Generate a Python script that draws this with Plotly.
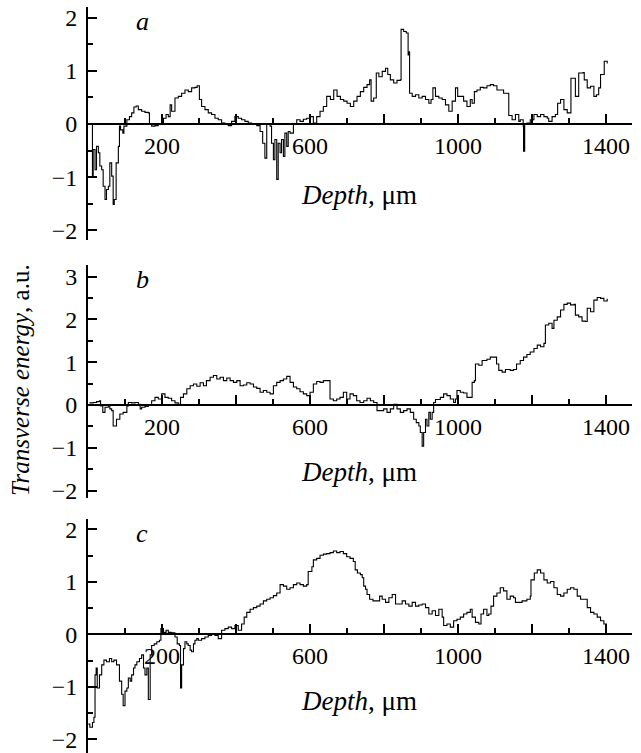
import plotly.graph_objects as go

# ---- data (depth in µm, transverse energy in a.u.) ----
a_x = [10, 12, 14, 19, 23, 28, 32, 37, 41, 46, 50, 55, 59, 64, 68, 71, 76, 79, 82, 85, 88, 94, 97,
       105, 112, 118, 124, 130, 136, 145, 154, 163, 166, 172, 181, 190, 199, 204, 211, 217, 222, 226,
       235, 244, 253, 262, 271, 280, 289, 295, 301, 307, 316, 325, 334, 343, 352, 361, 370, 379, 388,
       397, 406, 415, 424, 433, 442, 456, 465, 472, 478, 483, 487, 492, 496, 501, 505, 510, 514, 519,
       523, 528, 532, 537, 541, 546, 555, 564, 573, 582, 591, 600, 609, 618, 627, 636, 645,
       655, 664, 673, 682, 691, 700, 709, 718, 727, 736, 745, 754, 761, 765, 772, 779, 786, 795, 804,
       810, 817, 826, 835, 844, 846, 853, 860, 865, 868, 869, 876, 885, 894, 903, 912, 921, 927, 932,
       939, 948, 957, 966, 975, 984, 993, 999, 1006, 1015, 1024, 1033, 1038, 1044, 1051, 1060, 1069,
       1078, 1087, 1096, 1105, 1114, 1123, 1132, 1137, 1146, 1155, 1164, 1168, 1176, 1177, 1180, 1186,
       1195, 1205, 1214, 1223, 1232, 1241, 1245, 1254, 1263, 1269, 1277, 1286, 1295, 1304, 1305, 1317,
       1326, 1338, 1341, 1349, 1358, 1367, 1374, 1380, 1385, 1394, 1395, 1403]
a_y = [0.00, -0.98, -0.48, -0.86, -0.42, -0.54, -0.79, -0.86, -1.17, -1.42, -1.23, -1.17, -0.73, -0.98,
       -1.51, -1.42, -0.73, -0.73, -0.42, -0.04, -0.11, -0.17, -0.04,
       0.08, 0.14, 0.21, 0.32, 0.34, 0.27, 0.24, 0.22, 0.21, -0.01, -0.04, -0.03, 0.01, 0.02, 0.11, 0.18,
       0.14, 0.36, 0.24, 0.49, 0.52, 0.58, 0.64, 0.61, 0.68, 0.69, 0.72, 0.46, 0.33, 0.27, 0.21, 0.18,
       0.11, 0.08, 0.02, -0.01, -0.03, 0.05, 0.14, 0.11, 0.08, 0.05, 0.02, 0.01, -0.03, -0.14, -0.36,
       -0.64, 0.01, -0.01, -0.04, -0.36, -0.67, -0.29, -1.04, -0.36, -0.54, -0.29, -0.61, -0.17, -0.42,
       -0.14, -0.17, -0.01, 0.08, 0.05, 0.09, 0.11, 0.14, 0.02, 0.14, 0.24, 0.33, 0.52,
       0.46, 0.64, 0.52, 0.46, 0.43, 0.39, 0.33, 0.43, 0.52, 0.61, 0.69, 0.74, 0.83, 0.43, 0.49, 0.96,
       0.89, 0.99, 1.05, 0.93, 0.83, 0.77, 0.82, 0.83, 1.78, 1.74, 1.71, 1.30, 1.36, 0.58, 0.52, 0.55,
       0.49, 0.52, 0.46, 0.39, 0.46, 0.68, 0.52, 0.49, 0.46, 0.36, 0.24, 0.43, 0.68, 0.52, 0.52, 0.43,
       0.33, 0.46, 0.39, 0.61, 0.64, 0.69, 0.68, 0.72, 0.74, 0.72, 0.64, 0.64, 0.58, 0.58, 0.16, 0.08,
       0.18, 0.05, 0.08, -0.04, -0.51, -0.01, 0.02, 0.08, 0.18, 0.14, 0.18, 0.14, 0.11, 0.05, 0.14, 0.18,
       0.39, 0.46, 0.27, 0.21, 0.21, 0.86, 0.52, 0.96, 0.97, 0.83, 0.68, 0.71, 0.52, 0.55, 0.68, 0.93,
       0.93, 1.18, 1.14]

b_x = [4, 14, 23, 31, 34, 40, 46, 55, 59, 64, 68, 77, 86, 95, 105, 109, 118, 127, 136, 141, 145, 154,
       163, 172, 181, 190, 199, 208, 217, 226, 235, 244, 250, 258, 267, 276, 285, 294, 303, 312, 320,
       330, 339, 348, 357, 366, 375, 384, 393, 402, 411, 420, 429, 438, 447, 456, 465, 474, 483, 492,
       501, 510, 519, 528, 537, 546, 555, 564, 573, 582, 591, 600, 609, 618, 627, 636, 650, 654, 663,
       672, 681, 690, 699, 708, 717, 726, 735,
       745, 754, 763, 772, 781, 790, 799, 808, 817, 826, 835, 844, 853, 862, 871, 880, 887, 894, 898,
       903, 907, 912, 916, 921, 925, 930, 934, 939, 952, 961, 970, 979, 988, 993, 997, 1006, 1015, 1024,
       1033, 1038, 1044, 1047, 1056, 1065, 1078, 1087, 1096, 1104, 1110, 1119, 1128, 1141, 1150, 1158,
       1168, 1177, 1186, 1195, 1205, 1214, 1223, 1232, 1236, 1245, 1254, 1259, 1268, 1277, 1286, 1295,
       1304, 1314, 1317, 1326, 1335, 1344, 1349, 1358, 1367, 1376, 1385, 1394, 1403]
b_y = [0.05, 0.06, 0.08, 0.10, -0.02, -0.17, -0.05, -0.02, -0.09, -0.13, -0.49, -0.33, -0.21, -0.17,
       -0.02, 0.06, 0.05, 0.06, 0.02, -0.09, -0.05, -0.03, 0.00, 0.10, 0.18, 0.14, 0.26, 0.18, 0.16,
       0.10, 0.05, 0.02, 0.18, 0.26, 0.38, 0.45, 0.49, 0.44, 0.52, 0.45, 0.57, 0.65, 0.69, 0.61, 0.65,
       0.57, 0.63, 0.57, 0.53, 0.57, 0.45, 0.47, 0.52, 0.49, 0.42, 0.39, 0.30, 0.34, 0.30, 0.26, 0.45,
       0.53, 0.57, 0.61, 0.67, 0.53, 0.42, 0.38, 0.31, 0.26, 0.22, 0.30, 0.49, 0.55, 0.53, 0.57, 0.57,
       0.14, 0.10, 0.14, 0.18, 0.30, 0.14, 0.26, 0.22, 0.10, 0.06,
       0.10, 0.16, 0.10, 0.06, -0.13, -0.13, -0.09, -0.17, -0.09, 0.02, -0.09, -0.17, -0.13, -0.09,
       -0.17, -0.33, -0.41, -0.49, -0.64, -0.96, -0.64, -0.33, -0.49, -0.17, -0.33, -0.17, 0.06, 0.13,
       0.18, 0.26, 0.22, 0.14, 0.06, 0.14, 0.34, 0.30, 0.28, 0.18, 0.18, 0.53, 0.57, 0.96, 0.93, 1.04,
       1.07, 1.12, 1.12, 0.96, 0.81, 0.77, 0.83, 0.81, 0.83, 0.96, 1.04, 1.12, 1.18, 1.24, 1.32, 1.40,
       1.36, 1.44, 1.87, 1.91, 1.79, 1.98, 2.06, 2.22, 2.35, 2.38, 2.34, 2.35, 2.10, 2.06, 1.96, 1.95,
       2.26, 2.18, 2.45, 2.51, 2.49, 2.43, 2.48]

c_x = [1, 5, 12, 16, 19, 22, 25, 31, 37, 43, 50, 58, 64, 70, 77, 85, 91, 95, 100, 105, 109, 114, 118,
       123, 127, 132, 139, 145, 150, 154, 159, 163, 168, 172, 179, 186, 193, 197, 204, 211, 217, 226,
       235, 241, 247, 250, 253, 258, 262, 267, 271, 276, 280, 285, 289, 294, 298, 307, 316, 325, 334,
       343, 352, 361, 370, 379, 388, 397, 406, 415, 422, 429, 438, 447, 456, 465, 474, 483, 492, 501,
       510, 519, 528, 537, 546, 555, 564, 573, 582, 591, 595, 605, 609, 618, 627, 636, 645, 654, 663,
       672, 681, 690, 699, 708, 717, 722, 728,
       736, 741, 745, 750, 754, 761, 770, 779, 788, 795, 804, 813, 822, 831, 840, 849, 858, 867, 876,
       885, 894, 903, 912, 921, 930, 939, 948, 957, 961, 970, 979, 988, 997, 1006, 1015, 1024, 1033,
       1038, 1047, 1056, 1062, 1069, 1078, 1083, 1089, 1096, 1105, 1114, 1123, 1132, 1141, 1150, 1155,
       1164, 1173, 1186, 1195, 1197, 1206, 1214, 1223, 1232, 1241, 1250, 1259, 1268, 1277, 1286, 1295,
       1304, 1313, 1322, 1331, 1340, 1349, 1358, 1367, 1376, 1385, 1394, 1401]
c_y = [-1.71, -1.77, -1.68, -1.58, -0.77, -0.64, -1.02, -0.77, -0.58, -0.49, -0.52, -0.46, -0.52,
       -0.49, -0.58, -0.89, -1.14, -1.36, -1.08, -1.02, -0.83, -0.89, -0.77, -0.64, -0.58, -0.52, -0.46,
       -0.39, -0.64, -0.77, -0.64, -1.24, -0.39, -0.21, -0.18, -0.14, -0.11, 0.11, 0.04, 0.08, 0.04,
       0.03, -0.05, -0.18, -0.21, -1.02, -0.58, -0.27, -0.14, -0.18, -0.21, -0.30, -0.33, -0.18, -0.11,
       -0.08, -0.11, -0.08, -0.05, -0.02, 0.00, -0.02, -0.08, 0.08, 0.11, 0.14, 0.11, 0.17, 0.08, 0.20,
       0.33, 0.42, 0.48, 0.51, 0.54, 0.58, 0.64, 0.67, 0.70, 0.74, 0.79, 0.95, 0.92, 0.86, 0.89, 0.95,
       0.98, 0.95, 0.92, 0.95, 1.20, 1.29, 1.42, 1.45, 1.51, 1.53, 1.54, 1.56, 1.59, 1.56, 1.58, 1.54,
       1.48, 1.45, 1.39, 1.23, 1.17,
       1.14, 1.08, 0.92, 0.86, 0.76, 0.67, 0.64, 0.64, 0.73, 0.67, 0.61, 0.70, 0.76, 0.58, 0.58, 0.64,
       0.58, 0.54, 0.61, 0.54, 0.56, 0.58, 0.51, 0.39, 0.45, 0.36, 0.48, 0.33, 0.17, 0.20, 0.14, 0.26,
       0.29, 0.33, 0.39, 0.42, 0.48, 0.33, 0.23, 0.20, 0.39, 0.48, 0.36, 0.39, 0.54, 0.73, 0.79, 0.89,
       0.83, 0.67, 0.73, 0.70, 0.61, 0.61, 0.64, 0.67, 0.73, 1.04, 1.17, 1.23, 1.17, 1.04, 0.98, 1.01,
       0.89, 0.76, 0.73, 0.79, 0.86, 0.89, 0.86, 0.73, 0.67, 0.67, 0.51, 0.42, 0.39, 0.33, 0.26, 0.20,
       0.17]

x_major_vals = [200, 400, 600, 800, 1000, 1200, 1400]
x_major_text = ["200", "", "600", "", "1000", "", "1400"]
panel_letters = ["a", "b", "c"]
x_title = "<i>Depth</i>, μm"
y_title = "<i>Transverse energy</i>, a.u."

# ---- layout settings ----
W, H = 641, 753
FONT = "Liberation Serif"
FS = 24
FT = 27
x_range = [0, 1470]
panels = [
    dict(x=a_x, y=a_y, yr=[-2.18, 2.2], dom=[1 - 240 / H, 1 - 7 / H], ytv=[-2, -1, 0, 1, 2],
         letter_y=2.2, title_y=-1.33),
    dict(x=b_x, y=b_y, yr=[-2.17, 3.27], dom=[1 - 498 / H, 1 - 265 / H], ytv=[-2, -1, 0, 1, 2, 3],
         letter_y=3.27, title_y=-1.57),
    dict(x=c_x, y=c_y, yr=[-2.26, 2.2], dom=[0.0, 1 - 519 / H], ytv=[-2, -1, 0, 1, 2],
         letter_y=2.2, title_y=-1.27),
]

fig = go.Figure()
layout = dict(
    width=W, height=H,
    margin=dict(l=88, r=9, t=0, b=0, autoexpand=False),
    paper_bgcolor="white", plot_bgcolor="white",
    showlegend=False,
    font=dict(family=FONT, size=FS, color="black"),
)
annotations = []
for i, p in enumerate(panels):
    n = "" if i == 0 else str(i + 1)
    xa, ya = "x" + n, "y" + n
    fig.add_trace(go.Scatter(x=p["x"], y=p["y"], mode="lines", xaxis=xa, yaxis=ya,
                             line=dict(color="black", width=1.1, shape="hv")))
    r0, r1 = p["yr"]
    d0, d1 = p["dom"]
    pos = d0 + (0 - r0) / (r1 - r0) * (d1 - d0)
    layout["xaxis" + n] = dict(
        range=x_range, anchor="free", position=pos, domain=[0, 1], automargin=False,
        showline=True, linecolor="black", linewidth=2,
        showgrid=False, zeroline=False,
        tickmode="array", tickvals=x_major_vals, ticktext=x_major_text,
        ticks="inside", ticklen=9, tickwidth=2, tickcolor="black",
        minor=dict(dtick=100, tick0=0, ticks="inside", ticklen=5, tickwidth=2, tickcolor="black",
                   showgrid=False),
        tickfont=dict(family=FONT, size=FS, color="black"),
        ticklabeloverflow="allow",
    )
    layout["yaxis" + n] = dict(
        range=p["yr"], domain=p["dom"], anchor=xa, automargin=False,
        showline=True, linecolor="black", linewidth=2,
        showgrid=False, zeroline=False,
        tickmode="array", tickvals=p["ytv"],
        ticks="inside", ticklen=9, tickwidth=2, tickcolor="black",
        minor=dict(dtick=0.5, tick0=0, ticks="inside", ticklen=5, tickwidth=2, tickcolor="black",
                   showgrid=False),
        tickfont=dict(family=FONT, size=FS, color="black"),
        ticklabelstandoff=4,
        ticklabeloverflow="allow",
    )
    annotations.append(dict(x=146, y=p["letter_y"], xref=xa, yref=ya, text="<i>" + panel_letters[i] + "</i>",
                            yanchor="top", yshift=2,
                            showarrow=False, font=dict(family=FONT, size=26, color="black")))
    annotations.append(dict(x=732, y=p["title_y"], xref=xa, yref=ya, text=x_title,
                            showarrow=False, font=dict(family=FONT, size=FT, color="black")))

annotations.append(dict(x=-0.125, y=1 - 380 / H, xref="paper", yref="paper", text=y_title,
                        xanchor="center", yanchor="middle",
                        textangle=-90, showarrow=False, font=dict(family=FONT, size=25, color="black")))
layout["annotations"] = annotations
fig.update_layout(**layout)
fig.write_html("out.html")
